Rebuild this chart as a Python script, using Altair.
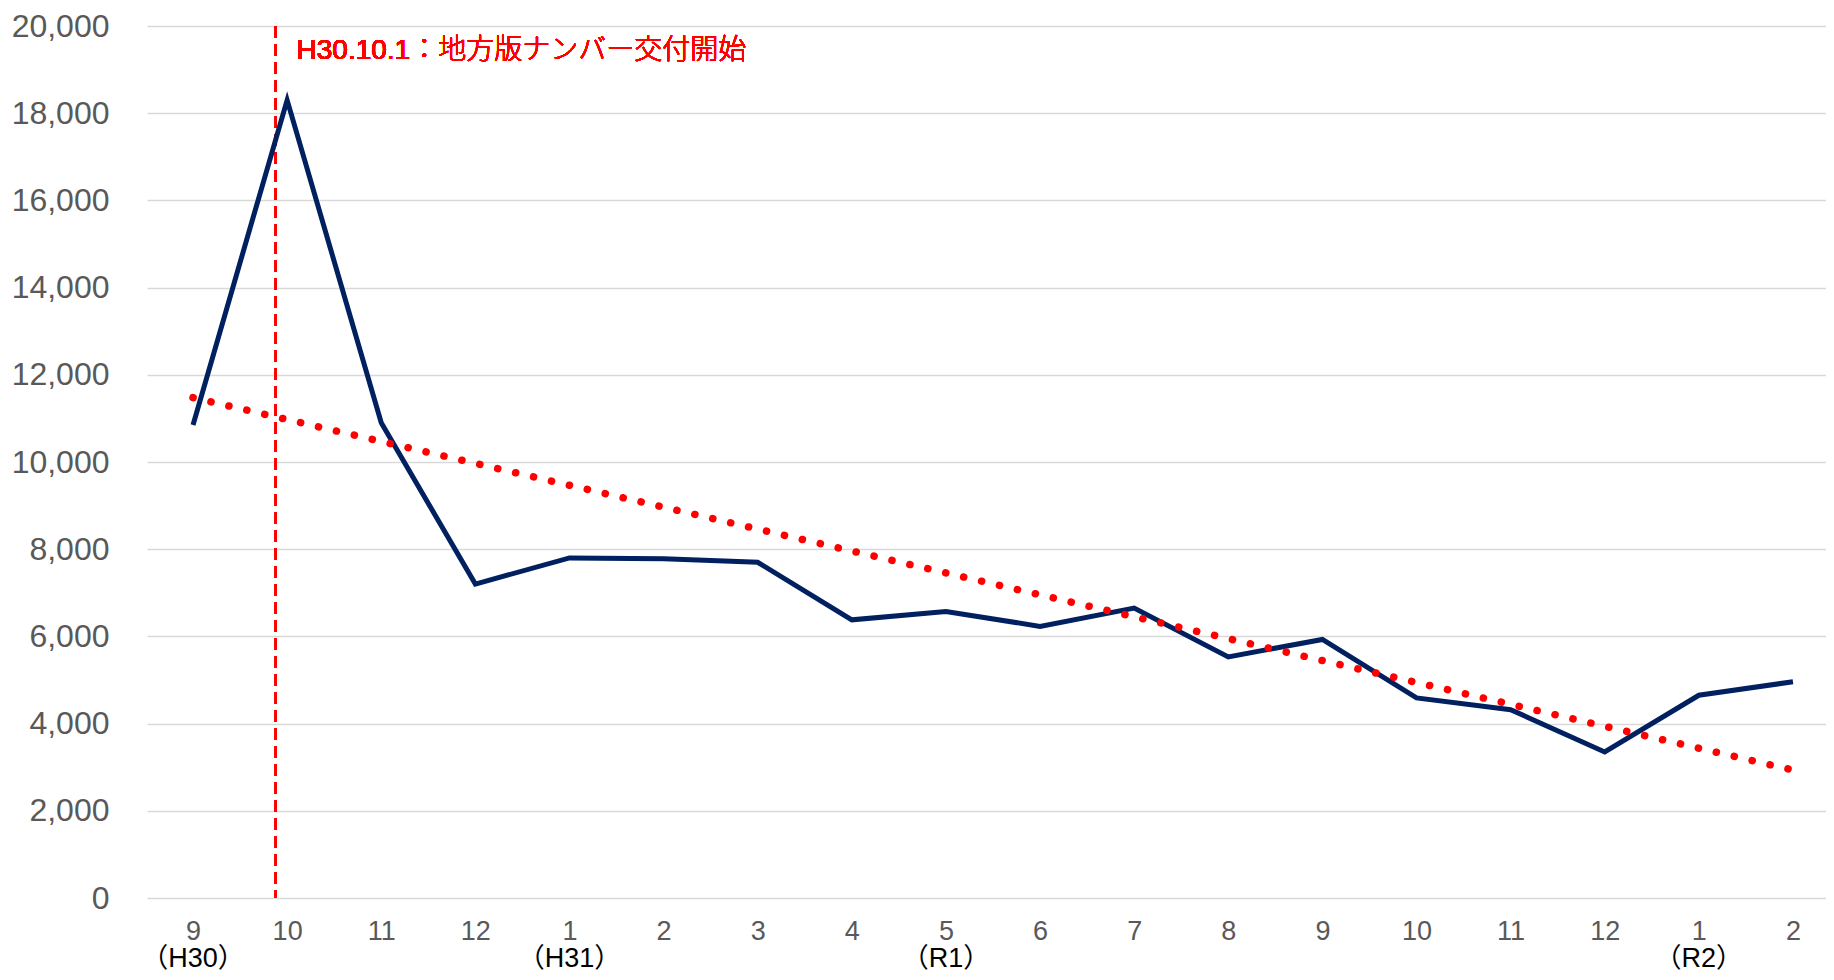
import altair as alt
import pandas as pd

# ---- data ----
months = ["9", "10", "11", "12", "1", "2", "3", "4", "5", "6", "7", "8", "9", "10", "11", "12", "1", "2"]
counts = [10850, 18300, 10900, 7200, 7800, 7780, 7700, 6380, 6570, 6230, 6650, 5530, 5930, 4590, 4320, 3350, 4650, 4960]
eras = ["（H30）", "", "", "", "（H31）", "", "", "", "（R1）", "", "", "", "", "", "", "", "（R2）", ""]
y_ticks = list(range(0, 20001, 2000))

event_x = 0.88          # H30.10.1, just before the "10" category centre
event_label = "H30.10.1：地方版ナンバー交付開始"
event_label_x = 1.10
event_label_y = 19430

df = pd.DataFrame({"idx": list(range(len(months))), "month": months, "count": counts, "era": eras})

LATIN = "Liberation Sans"
MIXED = "'Liberation Sans', 'Noto Sans CJK JP'"
GRAY = "#595959"

label_expr = "[" + ",".join('"%s"' % m for m in months) + "][datum.value]"

x_scale = alt.Scale(domain=[-0.489, 17.351], nice=False, zero=False)
y_scale = alt.Scale(domain=[0, 20000], nice=False)

x_axis = alt.Axis(values=list(range(len(months))), labelExpr=label_expr, grid=False, domain=False,
                  ticks=False, tickSize=0, title=None, labelFontSize=27, labelColor=GRAY,
                  labelFont=LATIN, labelPadding=20)
y_axis = alt.Axis(values=y_ticks, labelExpr="format(datum.value, ',')", labelFontSize=32,
                  labelColor=GRAY, labelFont=LATIN,
                  labelPadding=38, ticks=False, tickSize=0, domain=False, gridColor="#D9D9D9",
                  gridWidth=1.5, title=None)

base = alt.Chart(df)

rule = alt.Chart(df).mark_rule(color="#FF0000", strokeWidth=2, strokeDash=[12, 6]).encode(
    x=alt.datum(event_x, scale=x_scale, axis=x_axis)
)

line = base.mark_line(color="#002060", strokeWidth=5, strokeJoin="miter").encode(
    x=alt.X("idx:Q", scale=x_scale, axis=x_axis),
    y=alt.Y("count:Q", scale=y_scale, axis=y_axis),
)

trend = base.transform_regression("idx", "count", method="linear", extent=[0, len(months) - 1]).mark_line(
    color="#FF0000", strokeWidth=7.5, strokeDash=[0.1, 18.3], strokeCap="round"
).encode(
    x=alt.X("idx:Q", scale=x_scale, axis=x_axis),
    y=alt.Y("count:Q", scale=y_scale, axis=y_axis),
)

annot = alt.Chart(df).mark_text(align="left", baseline="middle", fontSize=28, fontWeight=300,
                                color="#FF0000", font=MIXED).encode(
    x=alt.datum(event_label_x, scale=x_scale, axis=x_axis),
    y=alt.datum(event_label_y, scale=y_scale, axis=y_axis),
    text=alt.value(event_label),
)

era_text = base.transform_filter("datum.era != ''").mark_text(
    baseline="middle", align="center", fontSize=27, fontWeight="normal", color="#000000", font=MIXED
).encode(
    x=alt.X("idx:Q", scale=x_scale, axis=x_axis),
    y=alt.value(933),
    text="era:N",
)

chart = alt.layer(rule, line, trend, annot, era_text).properties(
    width=1679,
    height=872,
    autosize=alt.AutoSizeParams(type="none"),
    padding={"left": 139, "top": 18, "right": 0, "bottom": 74},
    background="white",
).configure_view(stroke=None)

chart.save("out.html", embed_options={"renderer": "svg", "actions": False})
